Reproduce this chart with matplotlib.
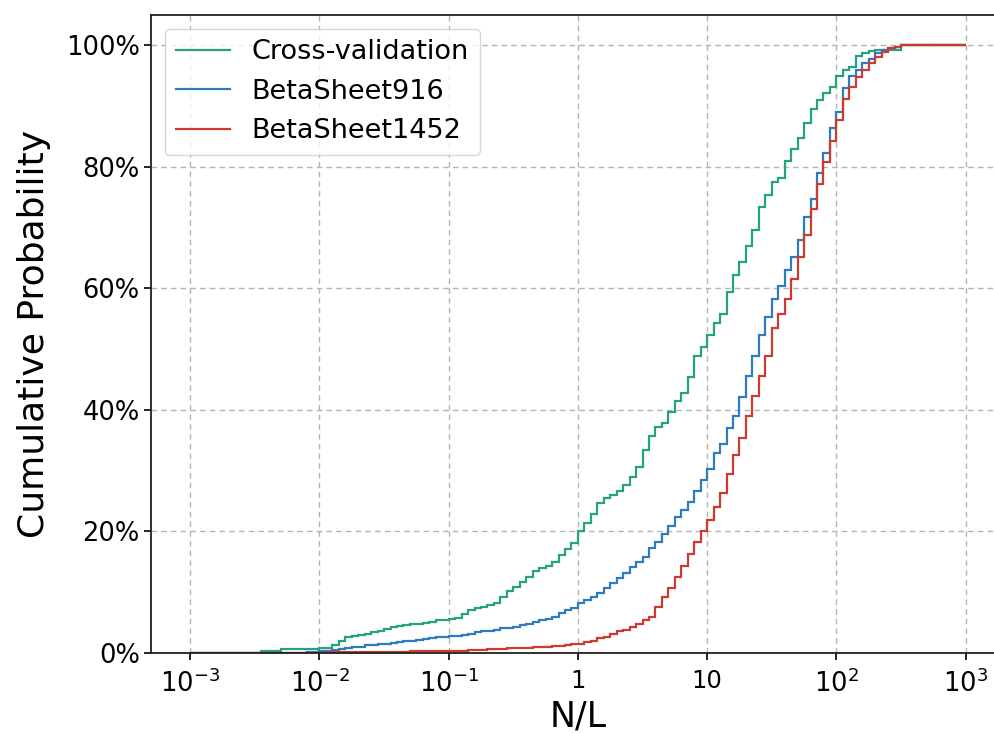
import numpy as np
import matplotlib
matplotlib.use("Agg")
import matplotlib.pyplot as plt
from matplotlib.ticker import FixedLocator, FixedFormatter, NullLocator, PercentFormatter

# cumulative share (%) per log bin, 20 bins per decade from 1e-3 to 1e3
cross_validation = [
    # 1e-3 .. 1e-2
    0, 0, 0, 0, 0, 0, 0, 0, 0, 0, 0, 0.3, 0.3, 0.3, 0.6, 0.6, 0.6, 0.6, 0.6, 0.6,
    # 1e-2 .. 1e-1
    0.7, 0.8, 1.3, 1.9, 2.5, 2.7, 2.9, 3.1, 3.4, 3.6, 3.9, 4.3, 4.4, 4.5, 4.7, 4.8, 4.9, 5.1, 5.3, 5.4,
    # 1e-1 .. 1
    5.5, 5.7, 6.3, 7.0, 7.3, 7.5, 7.9, 8.1, 9.2, 10.1, 10.8, 11.7, 12.5, 13.5, 13.9, 14.2, 15.0, 16.1, 17.0, 18.0,
    # 1 .. 10
    20.0, 21.3, 22.9, 24.7, 25.4, 25.9, 26.7, 27.6, 29.0, 30.5, 33.3, 35.7, 37.2, 37.8, 39.6, 41.4, 42.7, 45.4, 48.8, 50.4,
    # 10 .. 100
    52.3, 54.2, 55.7, 59.4, 62.2, 64.4, 66.9, 69.6, 73.4, 75.4, 77.5, 78.2, 80.9, 82.9, 84.7, 87.2, 89.6, 91.0, 92.1, 93.2,
    # 100 .. 1000
    94.9, 96.0, 96.5, 98.2, 98.7, 99.1, 99.2, 99.3, 99.3, 99.3, 100, 100, 100, 100, 100, 100, 100, 100, 100, 100,
]

betasheet916 = [
    0, 0, 0, 0, 0, 0, 0, 0, 0, 0, 0, 0, 0, 0, 0, 0, 0, 0, 0.1, 0.15,
    0.3, 0.3, 0.5, 0.6, 0.8, 0.9, 1.0, 1.2, 1.3, 1.4, 1.5, 1.6, 1.7, 1.9, 2.0, 2.1, 2.3, 2.4, 2.5, 2.6,
    2.7, 2.8, 2.9, 3.1, 3.4, 3.5, 3.6, 3.7, 4.0, 4.1, 4.3, 4.6, 4.8, 5.0, 5.3, 5.5, 5.9, 6.5, 7.0, 7.4,
    8.1, 8.7, 9.2, 9.8, 10.6, 11.4, 12.3, 13.2, 14.1, 15.0, 15.8, 17.2, 18.2, 19.5, 20.8, 22.4, 23.5, 24.8, 26.7, 28.4,
    30.2, 32.8, 34.4, 37.0, 38.9, 42.1, 45.5, 48.8, 52.3, 55.3, 58.3, 60.3, 63.0, 65.1, 67.9, 71.8, 74.7, 79.0, 82.3, 86.4,
    89.0, 93.0, 94.9, 96.0, 97.1, 97.8, 98.7, 99.2, 99.6, 99.8, 100, 100, 100, 100, 100, 100, 100, 100, 100, 100,
]

betasheet1452 = [
    0, 0, 0, 0, 0, 0, 0, 0, 0, 0, 0, 0, 0, 0, 0, 0, 0, 0, 0, 0,
    0.02, 0.03, 0.05, 0.05, 0.07, 0.08, 0.1, 0.1, 0.12, 0.13, 0.15, 0.15, 0.17, 0.18, 0.2, 0.2, 0.22, 0.23, 0.25, 0.25,
    0.3, 0.3, 0.35, 0.4, 0.45, 0.5, 0.55, 0.6, 0.65, 0.7, 0.75, 0.8, 0.85, 0.9, 0.95, 1.0, 1.05, 1.15, 1.25, 1.35,
    1.5, 1.7, 2.0, 2.4, 2.6, 3.1, 3.5, 3.8, 4.3, 4.8, 5.4, 5.9, 7.6, 9.2, 10.6, 12.5, 14.2, 16.2, 18.2, 20.0,
    21.9, 24.0, 26.3, 29.5, 32.6, 35.3, 39.0, 42.3, 45.6, 48.9, 53.4, 55.7, 58.3, 61.6, 65.2, 68.8, 73.0, 77.1, 80.8, 84.3,
    87.7, 91.2, 93.2, 94.8, 96.0, 97.1, 98.0, 98.9, 99.5, 99.7, 100, 100, 100, 100, 100, 100, 100, 100, 100, 100,
]

series_names = ["Cross-validation", "BetaSheet916", "BetaSheet1452"]
series_colors = ["#25a37f", "#2e7bbf", "#cc3b30"]

x_ticks = [1e-3, 1e-2, 1e-1, 1, 10, 1e2, 1e3]
x_tick_labels = ["$10^{-3}$", "$10^{-2}$", "$10^{-1}$", "1", "10", "$10^{2}$", "$10^{3}$"]
y_ticks = [0, 0.2, 0.4, 0.6, 0.8, 1.0]

plt.rcParams["font.family"] = ["DejaVu Sans"]
plt.rcParams["mathtext.fontset"] = "dejavusans"

edges = np.logspace(-3, 3, len(cross_validation) + 1)

fig = plt.figure(figsize=(9.94, 7.34), dpi=100)
ax = fig.add_axes([0.1524, 0.1108, 0.858, 0.8688])

for vals, name, col in zip([cross_validation, betasheet916, betasheet1452], series_names, series_colors):
    ax.stairs(np.array(vals) / 100.0, edges, baseline=None, color=col, linewidth=1.6, label=name)

ax.set_xscale("log")
ax.set_xlim(10 ** -3.3, 10 ** 3.3)
ax.set_ylim(0, 1.05)

ax.xaxis.set_major_locator(FixedLocator(x_ticks))
ax.xaxis.set_major_formatter(FixedFormatter(x_tick_labels))
ax.xaxis.set_minor_locator(NullLocator())
ax.yaxis.set_major_locator(FixedLocator(y_ticks))
ax.yaxis.set_major_formatter(PercentFormatter(1.0, decimals=0))

ax.grid(True, linestyle=(0, (4, 3)), color="#b4b4b4", linewidth=1.0)
ax.set_axisbelow(True)

ax.spines["right"].set_visible(False)
for sp in ax.spines.values():
    sp.set_linewidth(1.3)
    sp.set_color("#202020")

ax.tick_params(axis="both", length=5, width=1.2)
ax.tick_params(axis="y", labelsize=18.5)
ax.tick_params(axis="x", labelsize=17.5, pad=7)
# powers of ten look a bit larger than the plain "1" / "10"
for lab in ax.get_xticklabels():
    if "$" in lab.get_text():
        lab.set_fontsize(18.5)

ax.set_ylabel("Cumulative Probability", fontsize=26, labelpad=11)
ax.set_xlabel("N/L", fontsize=25, labelpad=1)

ax.legend(loc="upper left", fontsize=19.5, frameon=True, fancybox=True,
          framealpha=0.8, edgecolor="#cccccc")

fig.savefig("out.png", dpi=100)
